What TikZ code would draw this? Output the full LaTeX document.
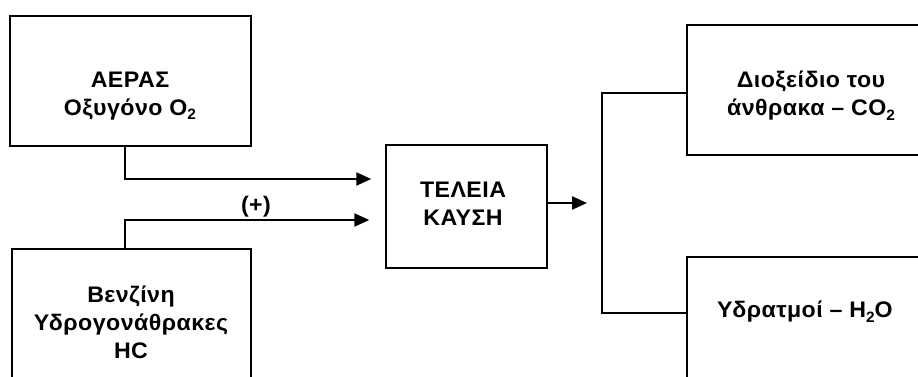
\documentclass[tikz,border=0pt]{standalone}
\usepackage{fontspec}
\setmainfont{Liberation Sans}[FakeStretch=1.03,LetterSpace=2]
\usetikzlibrary{arrows.meta,positioning}
\newcommand{\chsub}[1]{\raisebox{-0.35ex}{\fontsize{15}{15}\selectfont #1}}
\begin{document}
\begin{tikzpicture}[x=1pt,y=-1pt,
  box/.style={draw=black,line width=1.5pt,rectangle,inner sep=0pt},
  txt/.style={align=center,font=\fontsize{22.5}{28}\selectfont\bfseries,inner sep=0pt},
  conn/.style={line width=2.3pt},
  arr/.style={conn,-{Triangle[length=15pt,width=13pt]}}]
\useasboundingbox (0,0) rectangle (918,377);
\fill[white] (0,0) rectangle (918,377);
\clip (0,0) rectangle (918,377);
% boxes
\node[box,minimum width=241pt,minimum height=130pt] (air) at (130.5,81) {};
\node[box,minimum width=239pt,minimum height=160pt] (fuel) at (131.5,329) {};
\node[box,minimum width=161pt,minimum height=123pt] (comb) at (466.5,206.5) {};
\node[box,minimum width=270pt,minimum height=130pt] (co2) at (822,90) {};
\node[box,minimum width=270pt,minimum height=160pt] (h2o) at (822,337) {};
% texts
\node[txt] (tair) at (130,96) {ΑΕΡΑΣ\\Οξυγόνο Ο\chsub{2}};
\node[txt] (tfuel) at (131,322) {Βενζίνη\\Υδρογονάθρακες\\HC};
\node[txt] (tcomb) at (463,204) {ΤΕΛΕΙΑ\\ΚΑΥΣΗ};
\node[txt] (tco2) at (811,96) {Διοξείδιο του\\άνθρακα -- CO\chsub{2}};
\node[txt] (th2o) at (805,312) {Υδρατμοί -- H\chsub{2}O};
\node[txt] (plus) at (256,207) {(+)};
% connectors
\draw[arr,shorten >=14pt] ([xshift=-5.5pt]air.south) |- ([yshift=27.5pt]comb.west);
\draw[arr,shorten >=16pt] ([xshift=-6.5pt]fuel.north) |- ([yshift=-13.5pt]comb.west);
\coordinate (bus) at (602,203);
\draw[arr,shorten >=15pt] ([yshift=3.5pt]comb.east) -- (bus);
\draw[conn] ([yshift=-3pt]co2.west) -| (bus) |- ([yshift=24pt]h2o.west);
\end{tikzpicture}
\end{document}
